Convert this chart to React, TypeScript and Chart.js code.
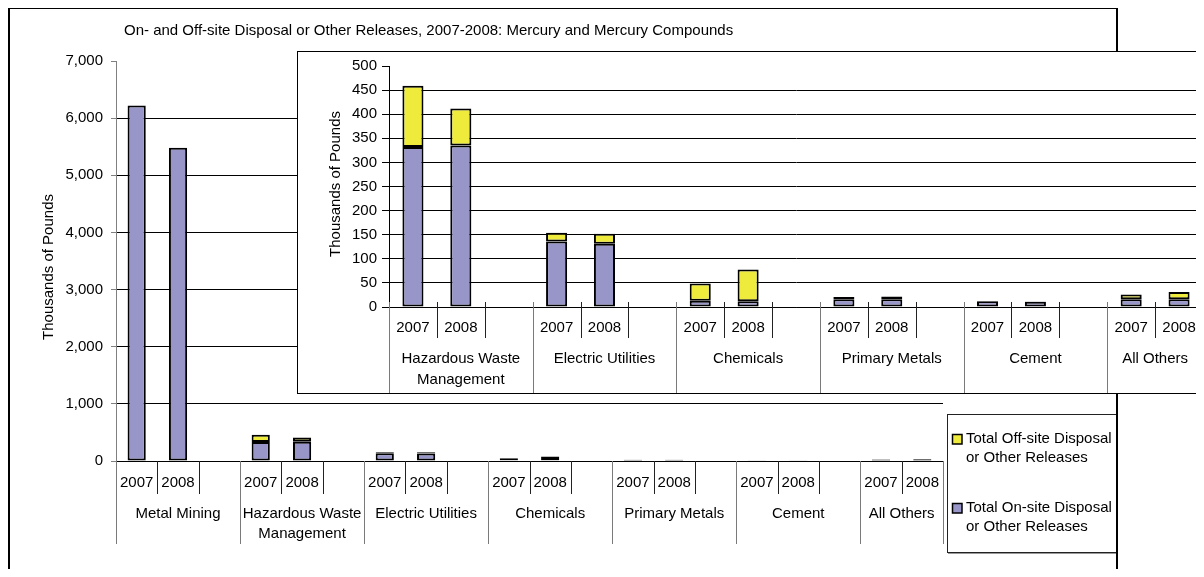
import React, { useEffect, useRef } from "react";
import { Chart, registerables } from "chart.js";

Chart.register(...registerables);

const FONT = '"Liberation Sans", Arial, sans-serif';
const FS = 15;

const chartTitle =
  "On- and Off-site Disposal or Other Releases, 2007-2008: Mercury and Mercury Compounds";
const yAxisTitle = "Thousands of Pounds";
const years = ["2007", "2008"];
const industryLabels = [
  "Metal Mining",
  "Hazardous Waste\nManagement",
  "Electric Utilities",
  "Chemicals",
  "Primary Metals",
  "Cement",
  "All Others",
];
// thousands of pounds
const onSite2007 = [6220, 332, 136, 13, 16, 12, 16];
const onSite2008 = [5480, 335, 131, 12, 16, 11, 16];
const offSite2007 = [3, 127, 18, 36, 5, 0.5, 10];
const offSite2008 = [3, 77, 21, 66, 6, 0.5, 15];
const seriesNames = [
  "Total Off-site Disposal\nor Other Releases",
  "Total On-site Disposal\nor Other Releases",
];
const mainTicks = [0, 1000, 2000, 3000, 4000, 5000, 6000, 7000];
const insetTicks = [0, 50, 100, 150, 200, 250, 300, 350, 400, 450, 500];
const mainGroups = [0, 1, 2, 3, 4, 5, 6];
const insetGroups = [1, 2, 3, 4, 5, 6];

const ON_COLOR = "#9896C8";
const OFF_COLOR = "#EFEB3D";

function buildSlots(groups: number[]) {
  const labels: string[] = [];
  const on: (number | null)[] = [];
  const off: (number | null)[] = [];
  const slotGroup: number[] = [];
  groups.forEach((g, k) => {
    labels.push(years[0], years[1]);
    on.push(onSite2007[g], onSite2008[g]);
    off.push(offSite2007[g], offSite2008[g]);
    slotGroup.push(k, k);
    if (k < groups.length - 1) {
      labels.push("");
      on.push(null);
      off.push(null);
      slotGroup.push(k);
    }
  });
  return { labels, on, off, slotGroup, groupLabels: groups.map((g) => industryLabels[g]) };
}

const axisDecor = {
  id: "axisDecor",
  afterDraw(chart: any, _args: any, o: any) {
    const { ctx, chartArea } = chart;
    const x = chart.scales.x;
    const labels: string[] = chart.data.labels;
    const n = labels.length;
    const half = (x.getPixelForValue(1) - x.getPixelForValue(0)) / 2;
    const base = chartArea.bottom;
    ctx.save();
    ctx.font = `${FS}px ${FONT}`;
    ctx.fillStyle = "#000";
    ctx.textAlign = "center";
    ctx.textBaseline = "middle";
    for (let i = 0; i < n; i++) {
      if (labels[i]) ctx.fillText(labels[i], x.getPixelForValue(i), base + o.yearDy);
    }
    for (let i = 0; i <= n; i++) {
      const bx = i < n ? x.getPixelForValue(i) - half : x.getPixelForValue(n - 1) + half;
      const isGroup = i === 0 || i === n || o.slotGroup[i] !== o.slotGroup[i - 1];
      ctx.strokeStyle = isGroup ? "#7a7a7a" : "#222";
      ctx.lineWidth = 1;
      ctx.beginPath();
      const px = Math.round(bx) + 0.5;
      ctx.moveTo(px, base - o.above);
      ctx.lineTo(px, base + (isGroup ? o.longLen : o.shortLen));
      ctx.stroke();
    }
    o.groupLabels.forEach((gl: string, k: number) => {
      const idx = o.slotGroup.map((g: number, i: number) => (g === k ? i : -1)).filter((i: number) => i >= 0);
      const first = idx[0];
      const last = idx[idx.length - 1];
      const cx = (x.getPixelForValue(first) - half + x.getPixelForValue(last) + half) / 2;
      gl.split("\n").forEach((line, j) => {
        ctx.fillText(line, cx, base + o.groupDy + j * o.lineH);
      });
    });
    // y axis title
    ctx.save();
    ctx.translate(o.yTitleX, o.yTitleY);
    ctx.rotate(-Math.PI / 2);
    ctx.fillText(yAxisTitle, 0, 0);
    ctx.restore();
    if (o.showTitle) {
      ctx.textAlign = "left";
      ctx.fillText(chartTitle, o.titleX, o.titleY);
    }
    if (o.legend) {
      const L = o.legend;
      ctx.strokeStyle = "#222";
      ctx.lineWidth = 1;
      ctx.strokeRect(L.x + 0.5, L.y + 0.5, L.w, L.h);
      ctx.strokeStyle = "#999";
      ctx.beginPath();
      ctx.moveTo(L.x + L.w + 1.5, L.y + 1);
      ctx.lineTo(L.x + L.w + 1.5, L.y + L.h + 1.5);
      ctx.lineTo(L.x + 1, L.y + L.h + 1.5);
      ctx.stroke();
      const ds = chart.data.datasets;
      const order = [1, 0];
      order.forEach((di, r) => {
        const top = L.itemTops[r];
        ctx.fillStyle = ds[di].backgroundColor;
        ctx.fillRect(L.sqX, top - 5, 10, 10);
        ctx.strokeStyle = "#000";
        ctx.lineWidth = 1.5;
        ctx.strokeRect(L.sqX + 0.5, top - 4.5, 9.5, 9.5);
        ctx.fillStyle = "#000";
        ctx.textAlign = "left";
        (ds[di].label as string).split("\n").forEach((line: string, j: number) => {
          ctx.fillText(line, L.textX, top + j * 19);
        });
      });
    }
    ctx.restore();
  },
};

function makeConfig(groups: number[], max: number, ticks: number[], plug: any, geo: any): any {
  const s = buildSlots(groups);
  const common = {
    borderColor: "#000",
    borderWidth: 2,
    borderSkipped: false,
    barPercentage: 0.44,
    categoryPercentage: 1,
  };
  return {
    type: "bar",
    data: {
      labels: s.labels,
      datasets: [
        { label: seriesNames[1], data: s.on, backgroundColor: ON_COLOR, ...common },
        { label: seriesNames[0], data: s.off, backgroundColor: OFF_COLOR, ...common },
      ],
    },
    options: {
      responsive: false,
      animation: false,
      devicePixelRatio: 1,
      layout: { padding: geo.padding },
      plugins: {
        legend: { display: false },
        tooltip: { enabled: false },
        title: { display: false },
        axisDecor: { ...plug, slotGroup: s.slotGroup, groupLabels: s.groupLabels },
      },
      scales: {
        x: {
          stacked: true,
          grid: { display: false },
          ticks: { display: false },
          border: { display: true, color: "#000", width: 1 },
          afterFit: (sc: any) => {
            sc.height = geo.xHeight;
          },
        },
        y: {
          stacked: true,
          min: 0,
          max,
          afterBuildTicks: (sc: any) => {
            sc.ticks = ticks.map((v) => ({ value: v }));
          },
          ticks: {
            color: "#000",
            font: { size: FS, family: FONT },
            padding: geo.tickPad,
            callback: (v: any) => Number(v).toLocaleString("en-US"),
          },
          grid: {
            color: (c: any) => (c.tick && c.tick.value === max ? "rgba(0,0,0,0)" : "#000"),
            lineWidth: 1,
            tickLength: geo.tickLen,
            tickColor: geo.axisColor,
          },
          border: { display: true, color: geo.axisColor, width: 1 },
          afterFit: (sc: any) => {
            sc.width = geo.yWidth;
          },
        },
      },
    },
    plugins: [axisDecor],
  };
}

export default function App() {
  const mainRef = useRef<HTMLCanvasElement>(null);
  const insetRef = useRef<HTMLCanvasElement>(null);
  useEffect(() => {
    const main = new Chart(
      mainRef.current as HTMLCanvasElement,
      makeConfig(
        mainGroups,
        7000,
        mainTicks,
        {
          yearDy: 22,
          groupDy: 53,
          lineH: 20,
          shortLen: 33,
          longLen: 83,
          above: 0,
          yTitleX: 41,
          yTitleY: 259,
          showTitle: true,
          titleX: 116,
          titleY: 23,
          legend: {
            x: 939,
            y: 406,
            w: 169,
            h: 138,
            sqX: 944,
            textX: 958,
            itemTops: [431, 500],
          },
        },
        {
          padding: { left: 0, top: 53, right: 175, bottom: 18 },
          xHeight: 90,
          yWidth: 108,
          tickLen: 5,
          tickPad: 8,
          axisColor: "#808080",
        }
      )
    );
    const inset = new Chart(
      insetRef.current as HTMLCanvasElement,
      makeConfig(
        insetGroups,
        500,
        insetTicks,
        {
          yearDy: 21,
          groupDy: 52,
          lineH: 21,
          shortLen: 31,
          longLen: 90,
          above: 5,
          yTitleX: 38,
          yTitleY: 132,
          showTitle: false,
          legend: null,
        },
        {
          padding: { left: 0, top: 12, right: 5, bottom: 6 },
          xHeight: 80,
          yWidth: 91,
          tickLen: 7,
          tickPad: 5,
          axisColor: "#000",
        }
      )
    );
    return () => {
      main.destroy();
      inset.destroy();
    };
  }, []);
  return (
    <div style={{ position: "relative", width: 1196, height: 561, overflow: "hidden" }}>
      <canvas
        ref={mainRef}
        width={1110}
        height={561}
        style={{ position: "absolute", left: 0, top: 0 }}
      />
      <div
        style={{
          position: "absolute",
          left: 0,
          top: 0,
          width: 1110,
          height: 600,
          boxSizing: "border-box",
          borderTop: "1px solid #000",
          borderLeft: "2px solid #000",
          borderRight: "2px solid #000",
          pointerEvents: "none",
        }}
      />
      <div
        style={{
          position: "absolute",
          left: 289,
          top: 43,
          width: 912,
          height: 343,
          boxSizing: "border-box",
          border: "1px solid #000",
          background: "#fff",
        }}
      >
        <canvas ref={insetRef} width={910} height={341} style={{ display: "block" }} />
      </div>
    </div>
  );
}
